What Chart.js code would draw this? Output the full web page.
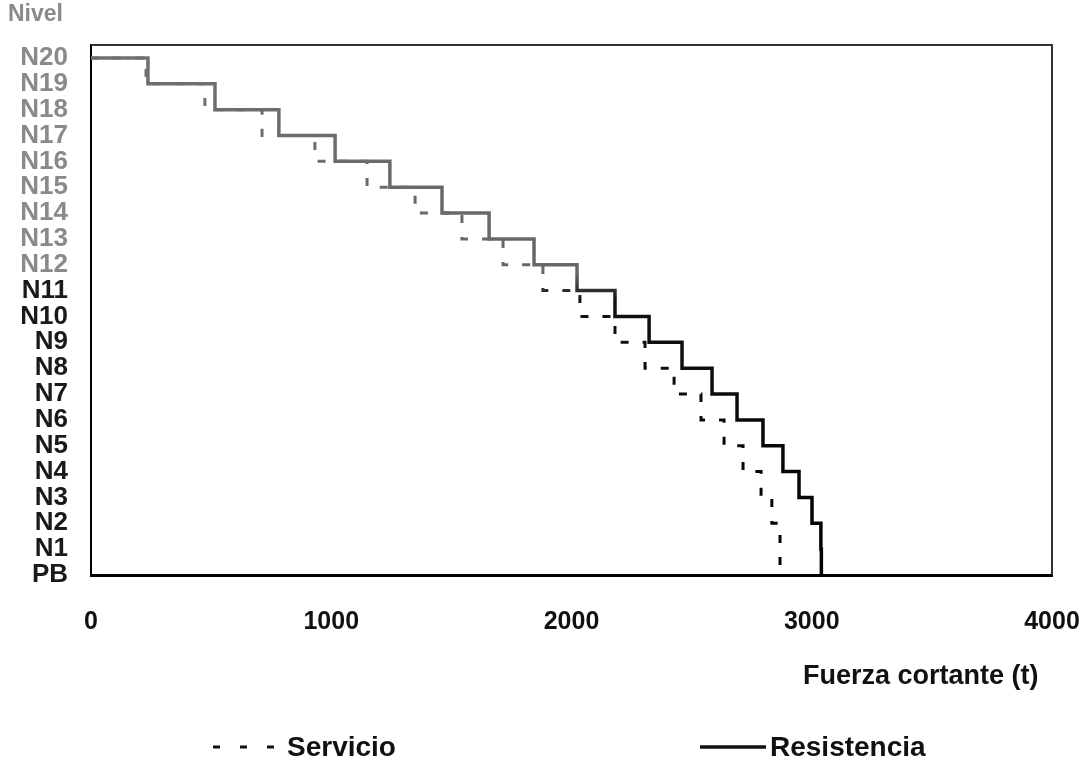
<!DOCTYPE html>
<html>
<head>
<meta charset="utf-8">
<title>Fuerza cortante por nivel</title>
<script src="https://cdn.jsdelivr.net/npm/chart.js@4.4.1/dist/chart.umd.min.js"></script>
<style>
  html, body { margin: 0; padding: 0; background: #fff; }
  #wrap { width: 1086px; height: 761px; position: relative; }
</style>
</head>
<body>
<div id="wrap"><canvas id="chart-shear"></canvas></div>
<script>
const levels = ["PB", "N1", "N2", "N3", "N4", "N5", "N6", "N7", "N8", "N9", "N10",
  "N11", "N12", "N13", "N14", "N15", "N16", "N17", "N18", "N19", "N20"];

// story shear (t), from the top story (N20) down to N1
const servicio = [229, 474, 712, 932, 1149, 1349, 1544, 1715, 1881, 2035,
  2181, 2306, 2427, 2539, 2635, 2714, 2789, 2834, 2868, 2868];
const resistencia = [237, 516, 782, 1016, 1244, 1461, 1657, 1844, 2023, 2181,
  2323, 2460, 2585, 2689, 2797, 2880, 2947, 3001, 3038, 3040];

const xTicks = [0, 1000, 2000, 3000, 4000];

const FONT = '"Liberation Sans", Arial, sans-serif';
Chart.defaults.font.family = FONT;

// horizontal at each level, vertical drop at the story shear
function stepPoints(values) {
  const pts = [{ x: 0, y: levels.length - 1 }];
  values.forEach((v, i) => pts.push({ x: v, y: levels.length - 2 - i }));
  return pts;
}

// the scan fades to grey in the upper stories
function inkGradient(context) {
  const chart = context.chart;
  const area = chart.chartArea;
  if (!area) return "#111";
  const g = chart.ctx.createLinearGradient(0, area.top, 0, area.bottom);
  g.addColorStop(0, "#707070");
  g.addColorStop(0.43, "#666");
  g.addColorStop(0.48, "#111");
  g.addColorStop(1, "#000");
  return g;
}

const framePlugin = {
  id: "frame",
  afterDraw(chart) {
    const { ctx, chartArea: a } = chart;
    ctx.save();
    ctx.strokeStyle = "#333";
    ctx.lineWidth = 2;
    ctx.beginPath();
    ctx.moveTo(a.left, a.top);
    ctx.lineTo(a.right, a.top);
    ctx.lineTo(a.right, a.bottom);
    ctx.stroke();
    ctx.restore();
  },
};

const legendPlugin = {
  id: "bottomLegend",
  afterDraw(chart) {
    const ctx = chart.ctx;
    const y = 747;
    const items = [
      { ds: chart.data.datasets[0], x0: 213, x1: 283, dash: [7, 20] },
      { ds: chart.data.datasets[1], x0: 700, x1: 766, dash: [] },
    ];
    ctx.save();
    items.forEach((it) => {
      ctx.strokeStyle = "#111";
      ctx.lineWidth = it.ds.borderWidth;
      ctx.setLineDash(it.dash);
      ctx.beginPath();
      ctx.moveTo(it.x0, y);
      ctx.lineTo(it.x1, y);
      ctx.stroke();
      ctx.setLineDash([]);
      ctx.fillStyle = "#111";
      ctx.font = "bold 28px " + FONT;
      ctx.textBaseline = "middle";
      ctx.textAlign = "left";
      ctx.fillText(it.ds.label, it.x1 + 4, y + 1);
    });
    ctx.restore();
  },
};

new Chart(document.getElementById("chart-shear"), {
  type: "line",
  data: {
    datasets: [
      {
        label: "Servicio",
        data: stepPoints(servicio),
        stepped: "before",
        borderColor: inkGradient,
        borderWidth: 3,
        borderDash: [8, 14],
        pointRadius: 0,
        fill: false,
      },
      {
        label: "Resistencia",
        data: stepPoints(resistencia),
        stepped: "before",
        borderColor: inkGradient,
        borderWidth: 3.5,
        pointRadius: 0,
        fill: false,
      },
    ],
  },
  options: {
    responsive: true,
    maintainAspectRatio: false,
    animation: false,
    layout: { padding: { left: 8, top: 0, right: 34, bottom: 66 } },
    plugins: {
      legend: { display: false },
      tooltip: { enabled: false },
      title: {
        display: true,
        text: "Nivel",
        align: "start",
        color: "#8a8a8a",
        font: { size: 23, weight: "bold" },
        padding: { top: 1, bottom: 16.4 },
      },
    },
    scales: {
      x: {
        type: "linear",
        min: 0,
        max: 4000,
        afterBuildTicks: (s) => { s.ticks = xTicks.map((v) => ({ value: v })); },
        afterFit: (s) => {
          s.height = 120;
          s.paddingLeft = 0;
          s.paddingRight = 0;
        },
        ticks: {
          padding: 32,
          color: "#111",
          font: { size: 25, weight: "bold" },
          maxRotation: 0,
          autoSkip: false,
          callback: (v) => String(v),
        },
        grid: { display: true, drawOnChartArea: false, drawTicks: false },
        border: { color: "#000", width: 3 },
        title: {
          display: true,
          text: "Fuerza cortante (t)\u2002",
          align: "end",
          color: "#111",
          font: { size: 27, weight: "bold" },
          padding: { top: 0, bottom: 2 },
        },
      },
      y: {
        type: "linear",
        min: 0,
        max: 20.5,
        afterBuildTicks: (s) => { s.ticks = levels.map((_, i) => ({ value: i })); },
        afterFit: (s) => { s.width = 83; },
        ticks: {
          padding: 23,
          autoSkip: false,
          font: { size: 26, weight: "bold", lineHeight: 1 },
          color: (c) => (c.index >= 12 ? "#8a8a8a" : "#1a1a1a"),
          callback: (v) => levels[v],
        },
        grid: { display: true, drawOnChartArea: false, drawTicks: false },
        border: { color: "#000", width: 2 },
      },
    },
  },
  plugins: [framePlugin, legendPlugin],
});
</script>
</body>
</html>
